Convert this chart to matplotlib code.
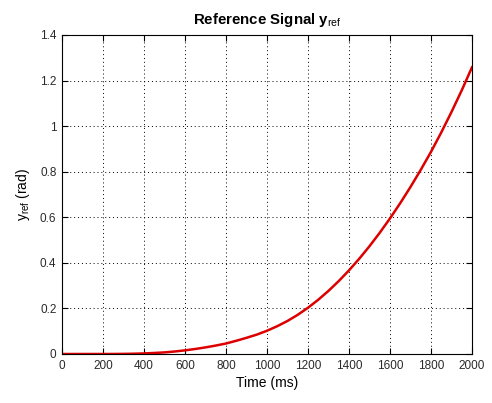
import matplotlib
matplotlib.use('Agg')
import matplotlib.pyplot as plt
import matplotlib.ticker as mticker

# reference signal (time in ms, angle in rad)
time_ms = [0, 50, 100, 150, 200, 250, 300, 350, 400, 450, 500,
           550, 600, 650, 700, 750, 800, 850, 900, 950, 1000,
           1050, 1100, 1150, 1200, 1250, 1300, 1350, 1400, 1450, 1500,
           1550, 1600, 1650, 1700, 1750, 1800, 1850, 1900, 1950, 2000]
y_ref = [0.0, 0.0, 0.0, 0.0, 0.0, 0.0001, 0.0005, 0.0012, 0.0025, 0.0045, 0.007,
         0.011, 0.016, 0.022, 0.029, 0.037, 0.046, 0.058, 0.071, 0.085, 0.102,
         0.122, 0.145, 0.172, 0.203, 0.238, 0.277, 0.320, 0.367, 0.418, 0.473,
         0.532, 0.595, 0.662, 0.733, 0.808, 0.887, 0.972, 1.062, 1.157, 1.258]

x_ticks = [0, 200, 400, 600, 800, 1000, 1200, 1400, 1600, 1800, 2000]
y_ticks = [0, 0.2, 0.4, 0.6, 0.8, 1.0, 1.2, 1.4]

plt.rcParams['font.family'] = ['Liberation Sans', 'DejaVu Sans']
plt.rcParams['mathtext.fontset'] = 'custom'
plt.rcParams['mathtext.rm'] = 'Liberation Sans'
plt.rcParams['mathtext.it'] = 'Liberation Sans'

fig = plt.figure(figsize=(4.92, 4.03), dpi=100)
ax = fig.add_axes([0.126, 0.1216, 0.8333, 0.7916])

ax.plot(time_ms, y_ref, color='#dc0000', lw=1.8)

ax.set_xlim(0, 2000)
ax.set_ylim(0, 1.4)
ax.set_xticks(x_ticks)
ax.set_yticks(y_ticks)
ax.yaxis.set_major_formatter(mticker.FormatStrFormatter('%g'))
ax.grid(True, color='#000000', linestyle=(0, (1, 3)), lw=0.7)
ax.tick_params(direction='in', top=True, right=True, length=4, width=0.8,
               labelsize=8.5, labelcolor='#2a2a2a', pad=4)
for s in ax.spines.values():
    s.set_linewidth(0.8)

ax.set_xlabel('Time (ms)', fontsize=10, labelpad=3)
ax.set_ylabel(r'y$_{\mathrm{ref}}$ (rad)', fontsize=10, labelpad=6)
ax.set_title(r'Reference Signal y$_{\mathrm{ref}}$', fontsize=10.8, fontweight='bold', pad=8)

fig.savefig('out.png', dpi=100)
